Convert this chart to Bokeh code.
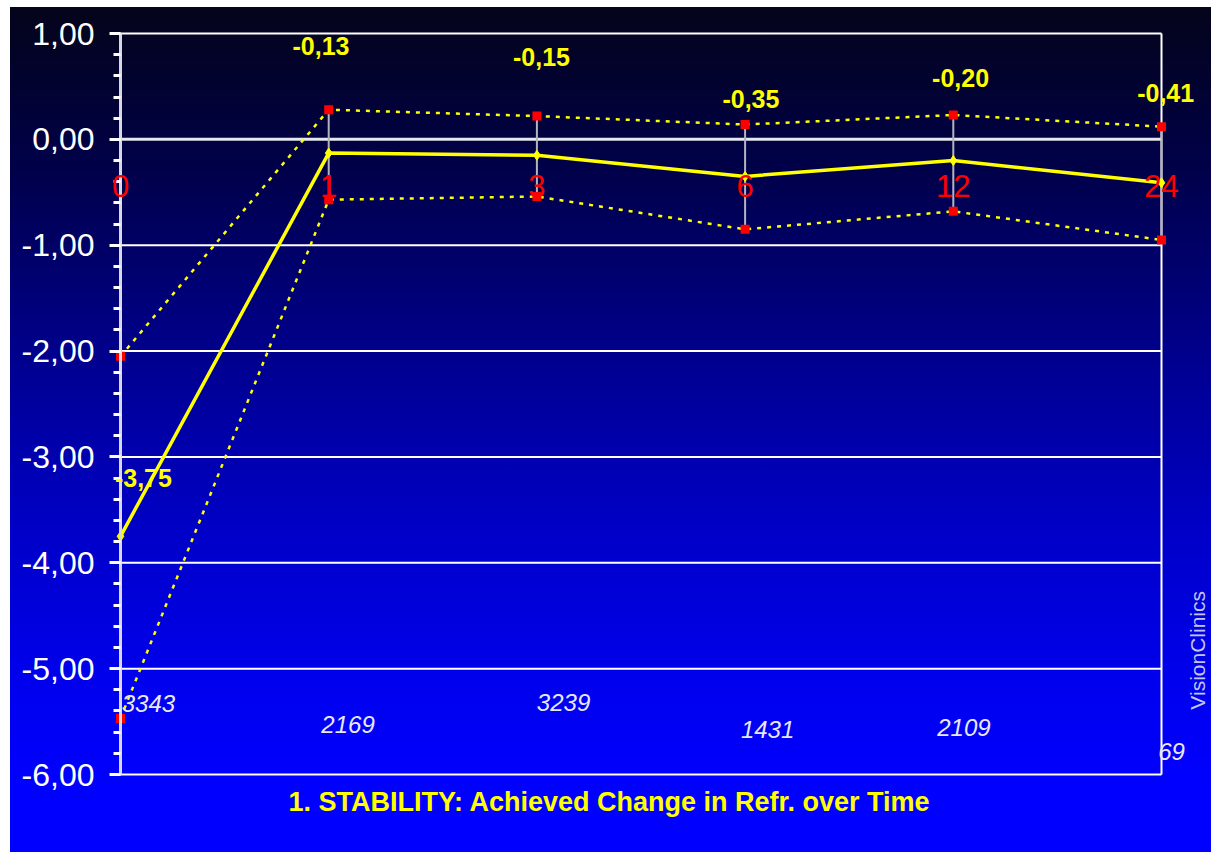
import numpy as np
from bokeh.plotting import figure
from bokeh.models import (ColumnDataSource, FixedTicker, Label, LabelSet, Range1d, LinearAxis)
from bokeh.core.properties import value
from bokeh.embed import file_html
from bokeh.resources import INLINE

# ---- data ----
months = ["0", "1", "3", "6", "12", "24"]
mean_change = [-3.75, -0.13, -0.15, -0.35, -0.20, -0.41]
upper = [-2.05, 0.28, 0.22, 0.14, 0.23, 0.12]
lower = [-5.47, -0.57, -0.54, -0.85, -0.68, -0.95]
counts = ["3343", "2169", "3239", "1431", "2109", "69"]
mean_labels = ["-3,75", "-0,13", "-0,15", "-0,35", "-0,20", "-0,41"]
y_ticks = [-6, -5, -4, -3, -2, -1, 0, 1]

# annotation placement (data units)
mean_label_x = [0.11, 0.963, 2.022, 3.028, 4.035, 5.02]
mean_label_y = [-3.20, 0.88, 0.78, 0.383, 0.576, 0.44]
count_x = [0.134, 1.093, 2.128, 3.108, 4.051, 5.048]
count_y = [-5.333, -5.531, -5.323, -5.573, -5.553, -5.786]
month_label_y = -0.44

xs = list(range(len(months)))
FONT_NAME = "Liberation Sans"
FONT = value(FONT_NAME)

W, H = 1201, 845
# plot area: data x 0..5 spans fig px 110..1151, data y 1..-6 spans fig px 26..767
px_x = (1151 - 110) / 5.0
px_y = (767 - 26) / 7.0
x_range = Range1d(0 - 110 / px_x, 5 + (W - 1151) / px_x)
y_range = Range1d(-6 - (H - 767) / px_y, 1 + 26 / px_y)

p = figure(width=W, height=H, output_backend="svg", toolbar_location=None,
           x_range=x_range, y_range=y_range,
           min_border_left=0, min_border_right=0, min_border_top=0, min_border_bottom=0,
           x_axis_location=None, y_axis_location=None)
p.styles = {"margin-left": "10px", "margin-top": "7px",
            "background": "linear-gradient(to bottom, #04041a 0%, #00004c 20%, #000090 42%, #0000c8 62%, #0000ee 80%, #0000ff 92%, #0000ff 100%)"}
p.background_fill_alpha = 0
p.border_fill_alpha = 0
p.outline_line_color = None
p.grid.visible = False

# y axis fixed at x = 0
yaxis = LinearAxis(fixed_location=0, bounds=(-6, 1))
yaxis.ticker = FixedTicker(ticks=y_ticks, minor_ticks=[round(v, 1) for v in np.arange(-6, 1.01, 0.2)])
yaxis.major_label_overrides = {t: f"{t},00" for t in y_ticks}
yaxis.major_label_text_font = FONT_NAME
yaxis.major_label_text_font_size = "32px"
yaxis.major_label_text_color = "white"
yaxis.major_label_standoff = 15
yaxis.axis_line_color = "#d8d8e0"
yaxis.axis_line_width = 3
yaxis.major_tick_line_color = "white"
yaxis.major_tick_line_width = 3
yaxis.major_tick_out = 11
yaxis.major_tick_in = 0
yaxis.minor_tick_line_color = "white"
yaxis.minor_tick_line_width = 3
yaxis.minor_tick_out = 7
yaxis.minor_tick_in = 0
p.add_layout(yaxis, "left")

# horizontal grid lines from x=0 to x=5, at tick values
grid_src = ColumnDataSource(dict(y=[t for t in y_ticks if t != 0]))
p.segment(x0=0, y0="y", x1=5, y1="y", source=grid_src, line_color="white", line_width=2)
p.segment(x0=[0], y0=[0], x1=[5], y1=[0], line_color="#e6e6ee", line_width=3)
p.segment(x0=[5], y0=[-6], x1=[5], y1=[1], line_color="white", line_width=2)

src = ColumnDataSource(dict(x=xs, mean=mean_change, upper=upper, lower=lower, month=months,
                            my=[month_label_y] * len(xs)))

# error bars
p.segment(x0="x", y0="lower", x1="x", y1="upper", source=src, line_color="#b4b4c0", line_width=2)
# dotted bounds
p.line("x", "upper", source=src, line_color="#ffff00", line_width=2.5, line_dash="4 6")
p.line("x", "lower", source=src, line_color="#ffff00", line_width=2.5, line_dash="4 6")
# mean line
p.line("x", "mean", source=src, line_color="#ffff00", line_width=3.5)
p.scatter("x", "mean", source=src, marker="diamond", size=10, fill_color="#ffff00", line_color="#ffff00")
# bounds markers
p.scatter("x", "upper", source=src, marker="square", size=9, fill_color="#ff0000", line_color=None)
p.scatter("x", "lower", source=src, marker="square", size=9, fill_color="#ff0000", line_color=None)

# month labels
p.add_layout(LabelSet(x="x", y="my", text="month", source=src, text_align="center",
                      text_baseline="middle", text_color="#ff0000", text_font_size="31px",
                      text_font=FONT))

# mean labels
msrc = ColumnDataSource(dict(x=mean_label_x, y=mean_label_y, t=mean_labels))
p.add_layout(LabelSet(x="x", y="y", text="t", source=msrc, text_align="center",
                      text_baseline="middle", text_color="#ffff00", text_font_size="25px",
                      text_font_style="bold", text_font=FONT))

# count labels
csrc = ColumnDataSource(dict(x=count_x, y=count_y, t=counts))
p.add_layout(LabelSet(x="x", y="y", text="t", source=csrc, text_align="center",
                      text_baseline="middle", text_color="#e8e8f4", text_font_size="24px",
                      text_font_style="italic", text_font=FONT))

# title
p.add_layout(Label(x=2.349, y=-6.258, text="1. STABILITY: Achieved Change in Refr. over Time",
                   text_align="center", text_baseline="middle", text_color="#ffff00",
                   text_font_size="27px", text_font_style="bold", text_font=FONT_NAME))
# watermark
p.add_layout(Label(x=5.173, y=-4.827, text="VisionClinics", angle=np.pi / 2,
                   text_align="center", text_baseline="middle", text_color="#c4c4ec",
                   text_font_size="21px", text_font=FONT_NAME))

open("out.html", "w").write(file_html(p, INLINE))
